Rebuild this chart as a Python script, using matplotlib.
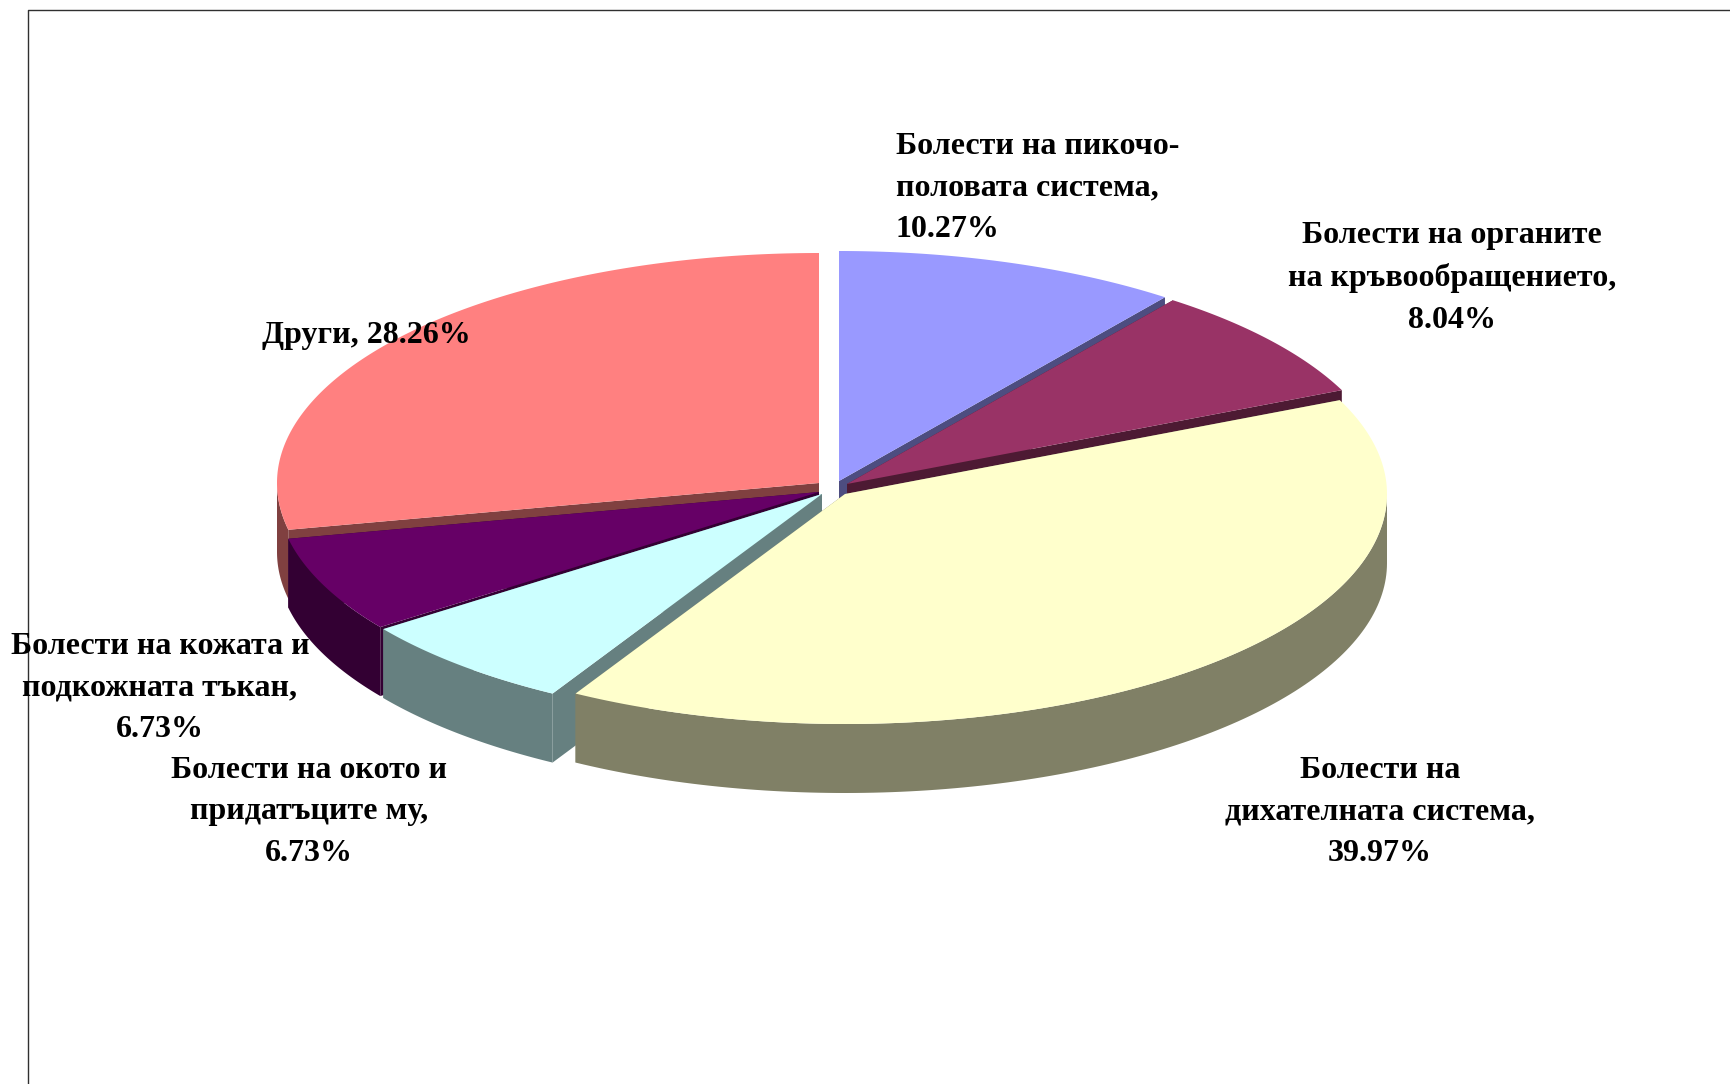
import numpy as np
import matplotlib
matplotlib.use("Agg")
import matplotlib.pyplot as plt

# data, clockwise from 12 o'clock
categories = ["Болести на пикочо-\nполовата система", "Болести на органите\nна кръвообращението",
              "Болести на\nдихателната система", "Болести на окото и\nпридатъците му",
              "Болести на кожата и\nподкожната тъкан", "Други"]
values = [10.27, 8.04, 39.97, 6.73, 6.73, 28.26]

# style
top_colors = ["#9999FF", "#993366", "#FFFFCC", "#CCFFFF", "#660066", "#FF8080"]
wall_colors = ["#4D4D80", "#4D1A33", "#808066", "#668080", "#330033", "#804040"]
apex_x = [839, 847, 845, 822, 819, 819]  # exploded slices, pixels
apex_y = [481, 484, 494, 494, 492, 483]
draw_order = [5, 0, 1, 4, 3, 2]
rx, ry, depth = 542, 230, 69

label_x = [896, 1452, 1380, 309, 160, 366]
label_y = [188, 278, 812, 812, 688, 336]
label_ha = ["left", "center", "center", "center", "center", "center"]

fig = plt.figure(figsize=(17.31, 10.84), dpi=100)
ax = fig.add_axes([0, 0, 1, 1])
ax.set_xlim(0, 1731)
ax.set_ylim(1084, 0)
ax.axis("off")

# chart area border, only left and top are in the picture
ax.plot([28, 28, 1731], [1084, 10, 10], color="#303030", lw=1.0, zorder=1)

ends = np.cumsum(values) / np.sum(values) * 2 * np.pi
starts = np.concatenate([[0], ends[:-1]])


def rim(t, cx, cy):
    return cx + rx * np.sin(t), cy - ry * np.cos(t)


z = 2
for i in draw_order:
    cx, cy = apex_x[i], apex_y[i]
    t = np.linspace(starts[i], ends[i], 150)
    x, y = rim(t, cx, cy)

    # straight side walls
    for a in (starts[i], ends[i]):
        ex, ey = rim(a, cx, cy)
        ax.fill([cx, ex, ex, cx], [cy, ey, ey + depth, cy + depth],
                color=wall_colors[i], lw=0, zorder=z)

    # outer wall, front part only
    front = np.cos(t) <= 0
    if front.any():
        wx, wy = x[front], y[front]
        ax.fill(np.r_[wx, wx[::-1]], np.r_[wy, wy[::-1] + depth],
                color=wall_colors[i], lw=0, zorder=z)

    ax.fill(np.r_[cx, x], np.r_[cy, y], color=top_colors[i], lw=0, zorder=z + 1)
    z += 2

for i, cat in enumerate(categories):
    sep = ",\n" if "\n" in cat else ", "
    ax.text(label_x[i], label_y[i], f"{cat}{sep}{values[i]:.2f}%",
            family="Liberation Serif", fontweight="bold", fontsize=23,
            ha=label_ha[i], va="center", multialignment=label_ha[i],
            linespacing=1.58, color="black", zorder=50)

fig.savefig("out.png", dpi=100, facecolor="white")
